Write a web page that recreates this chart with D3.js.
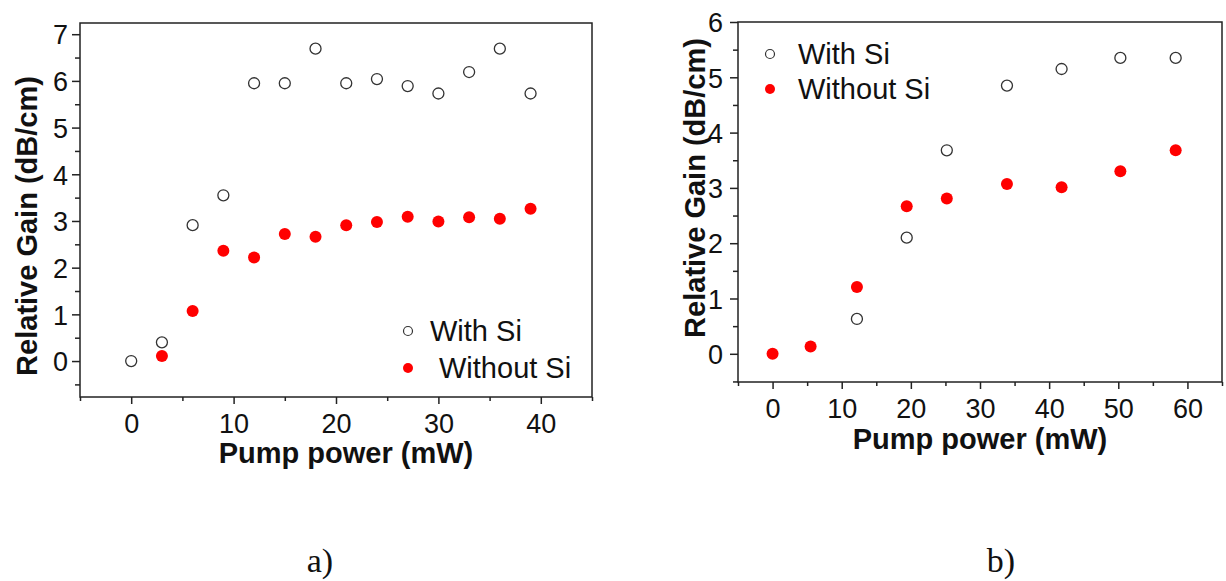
<!DOCTYPE html>
<meta charset="utf-8">
<html>
<style>
  body { margin: 0; background: #fff; }
  .tick text { font-family: Arial, "Liberation Sans", sans-serif; font-size: 27px; fill: #111; }
  .axis path, .axis line { stroke: #222; stroke-width: 1.5px; }
  .frame { fill: none; stroke: #222; stroke-width: 1.5px; }
  .title { font-family: Arial, "Liberation Sans", sans-serif; font-weight: bold; font-size: 29px; fill: #111; }
  .legend { font-family: Arial, "Liberation Sans", sans-serif; font-size: 29px; fill: #111; }
  .caption { font-family: "Liberation Serif", "Times New Roman", serif; font-size: 34px; fill: #111; }
</style>
<body>
<svg width="1226" height="581"></svg>
<script src="https://d3js.org/d3.v7.min.js"></script>
<script>

// panel a)
var powerA = [0, 3, 6, 9, 12, 15, 18, 21, 24, 27, 30, 33, 36, 39];
var withSiA = [0, 0.4, 2.91, 3.55, 5.95, 5.95, 6.69, 5.95, 6.04, 5.89, 5.73, 6.19, 6.69, 5.73];
var powerNoA = [3, 6, 9, 12, 15, 18, 21, 24, 27, 30, 33, 36, 39];
var withoutSiA = [0.11, 1.07, 2.36, 2.22, 2.72, 2.66, 2.91, 2.98, 3.09, 2.99, 3.08, 3.05, 3.26];
var xTicksA = [0, 10, 20, 30, 40];
var yTicksA = [0, 1, 2, 3, 4, 5, 6, 7];

// panel b)
var powerB = [12.2, 19.4, 25.2, 33.9, 41.8, 50.3, 58.3];
var withSiB = [0.63, 2.1, 3.68, 4.85, 5.15, 5.35, 5.35];
var powerNoB = [0, 5.5, 12.2, 19.4, 25.2, 33.9, 41.8, 50.3, 58.3];
var withoutSiB = [0, 0.13, 1.21, 2.67, 2.81, 3.07, 3.01, 3.30, 3.68];
var xTicksB = [0, 10, 20, 30, 40, 50, 60];
var yTicksB = [0, 1, 2, 3, 4, 5, 6];

var svg = d3.select("svg");
var fmt = d3.format("d");

function panel(opt) {
  var x = d3.scaleLinear().domain(opt.xdom).range([opt.left, opt.right]);
  var y = d3.scaleLinear().domain(opt.ydom).range([opt.bottom, opt.top]);
  var g = svg.append("g");

  // minor ticks
  g.append("g").attr("class", "axis")
    .attr("transform", "translate(0," + opt.bottom + ")")
    .call(d3.axisBottom(x).tickValues(opt.xminor).tickSize(4).tickFormat(""))
    .select(".domain").remove();
  g.append("g").attr("class", "axis")
    .attr("transform", "translate(" + opt.left + ",0)")
    .call(d3.axisLeft(y).tickValues(opt.yminor).tickSize(5).tickFormat(""))
    .select(".domain").remove();

  var xa = g.append("g").attr("class", "axis")
    .attr("transform", "translate(0," + opt.bottom + ")")
    .call(d3.axisBottom(x).tickValues(opt.xticks).tickFormat(fmt).tickSize(7).tickPadding(opt.xpad).tickSizeOuter(0));
  xa.select(".domain").remove();
  var ya = g.append("g").attr("class", "axis")
    .attr("transform", "translate(" + opt.left + ",0)")
    .call(d3.axisLeft(y).tickValues(opt.yticks).tickFormat(fmt).tickSize(8).tickPadding(opt.ypad).tickSizeOuter(0));
  ya.select(".domain").remove();
  ya.selectAll(".tick text").attr("dy", "0.36em");

  g.append("rect").attr("class", "frame")
    .attr("x", opt.left).attr("y", opt.top)
    .attr("width", opt.right - opt.left).attr("height", opt.bottom - opt.top);

  g.append("g").selectAll("circle")
    .data(opt.px2.map(function(d, i) { return [d, opt.py2[i]]; }))
    .enter().append("circle")
      .attr("cx", function(d) { return x(d[0]); })
      .attr("cy", function(d) { return y(d[1]); })
      .attr("r", 6)
      .attr("fill", "#ff0000");

  g.append("g").selectAll("circle")
    .data(opt.px1.map(function(d, i) { return [d, opt.py1[i]]; }))
    .enter().append("circle")
      .attr("cx", function(d) { return x(d[0]); })
      .attr("cy", function(d) { return y(d[1]); })
      .attr("r", 5.5)
      .attr("fill", "none")
      .attr("stroke", "#333")
      .attr("stroke-width", 1.3);

  g.append("text").attr("class", "title")
    .attr("x", (opt.left + opt.right) / 2 + opt.xtitleShift).attr("y", opt.xtitleY)
    .attr("text-anchor", "middle").text("Pump power (mW)");
  g.append("text").attr("class", "title")
    .attr("transform", "translate(" + opt.ytitleX + "," + opt.ytitleY + ") rotate(-90)")
    .attr("text-anchor", "middle").text("Relative Gain (dB/cm)");

  // legend
  var lg = g.append("g").attr("class", "legend");
  lg.append("circle").attr("cx", opt.lx).attr("cy", opt.ly).attr("r", 4.5)
    .attr("fill", "none").attr("stroke", "#333").attr("stroke-width", 1.2);
  lg.append("circle").attr("cx", opt.lx).attr("cy", opt.ly + opt.lgap).attr("r", 5)
    .attr("fill", "#ff0000");
  lg.append("text").attr("x", opt.lx + opt.ltx1).attr("y", opt.ly + 10).text("With Si");
  lg.append("text").attr("x", opt.lx + opt.ltx2).attr("y", opt.ly + opt.lgap + 10).text("Without Si");

  svg.append("text").attr("class", "caption")
    .attr("x", opt.capX).attr("y", 572).attr("text-anchor", "middle").text(opt.caption);
}

panel({
  left: 80, right: 592, top: 23, bottom: 397,
  xdom: [-5, 45], ydom: [-0.77, 7.24],
  xticks: xTicksA, yticks: yTicksA,
  xminor: [-5, 5, 15, 25, 35, 45], yminor: [-0.5, 0.5, 1.5, 2.5, 3.5, 4.5, 5.5, 6.5],
  xpad: 10, ypad: 4,
  px1: powerA, py1: withSiA, px2: powerNoA, py2: withoutSiA,
  xtitleY: 463, xtitleShift: 10, ytitleX: 37, ytitleY: 226,
  lx: 408, ly: 331, lgap: 37, ltx1: 22, ltx2: 31,
  capX: 320, caption: "a)"
});

panel({
  left: 738, right: 1222, top: 22, bottom: 382,
  xdom: [-5, 65], ydom: [-0.51, 6],
  xticks: xTicksB, yticks: yTicksB,
  xminor: [-5, 5, 15, 25, 35, 45, 55, 65], yminor: [-0.5, 0.5, 1.5, 2.5, 3.5, 4.5, 5.5],
  xpad: 10, ypad: 7,
  px1: powerB, py1: withSiB, px2: powerNoB, py2: withoutSiB,
  xtitleY: 449, xtitleShift: 0, ytitleX: 705, ytitleY: 188,
  lx: 770, ly: 54, lgap: 35, ltx1: 28, ltx2: 28,
  capX: 1001, caption: "b)"
});

</script>
</body>
</html>
